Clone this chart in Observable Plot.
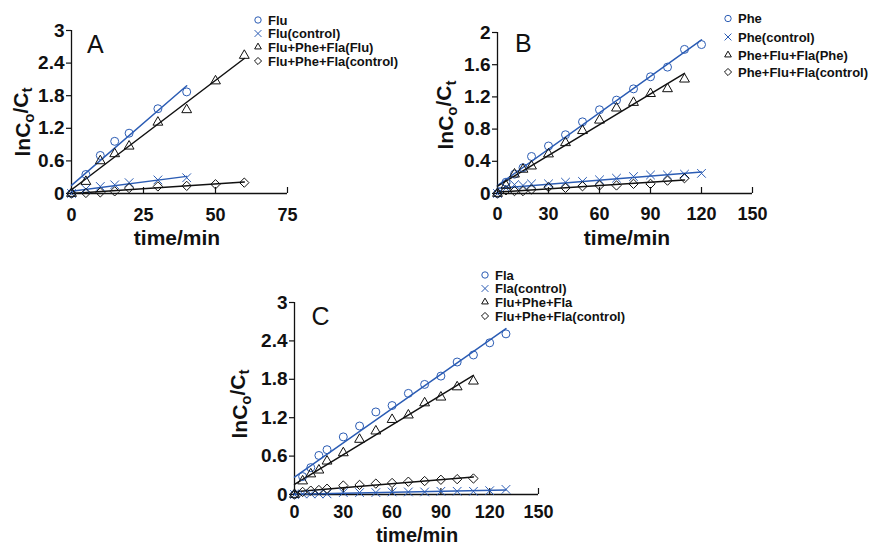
<!DOCTYPE html>
<html><head><meta charset="utf-8">
<script src="https://cdn.jsdelivr.net/npm/d3@7"></script>
<script src="https://cdn.jsdelivr.net/npm/@observablehq/plot@0.6"></script>
<style>
body{margin:0;background:#fff;}
#wrap{position:relative;width:871px;height:547px;overflow:hidden;font-family:"Liberation Sans",Arial,Helvetica,sans-serif;}
.panel{position:absolute;}
.panel svg{overflow:visible;}
#overlay{position:absolute;left:0;top:0;pointer-events:none;}
</style></head><body><div id="wrap"></div>
<script>
const FONT = '"Liberation Sans", Arial, Helvetica, sans-serif';
const BLUE = "#2b5cb4";
const BLACK = "#111";

// ---------- Panel A ----------
const timeFlu = [0, 5, 10, 15, 20, 30, 40];
const fluValues = [0, 0.35, 0.70, 0.96, 1.11, 1.56, 1.87];
const fluControlValues = [0, 0.08, 0.13, 0.16, 0.20, 0.25, 0.29];
const timeFluMix = [0, 5, 10, 15, 20, 30, 40, 50, 60];
const fluMixValues = [0, 0.22, 0.60, 0.73, 0.87, 1.31, 1.54, 2.07, 2.54];
const fluMixControlValues = [0, 0.01, 0.02, 0.04, 0.10, 0.13, 0.14, 0.17, 0.20];
const xTicksA = [0, 25, 50, 75];
const yTicksA = [0, 0.6, 1.2, 1.8, 2.4, 3];
const legendA = ["Flu", "Flu(control)", "Flu+Phe+Fla(Flu)", "Flu+Phe+Fla(control)"];

// ---------- Panel B ----------
const timePhe = [0, 5, 10, 15, 20, 30, 40, 50, 60, 70, 80, 90, 100, 110, 120];
const pheValues = [0, 0.14, 0.24, 0.32, 0.46, 0.59, 0.73, 0.89, 1.04, 1.16, 1.30, 1.45, 1.57, 1.79, 1.85];
const pheControlValues = [0, 0.07, 0.11, 0.10, 0.12, 0.12, 0.14, 0.15, 0.17, 0.19, 0.21, 0.23, 0.23, 0.24, 0.25];
const timePheMix = [0, 5, 10, 15, 20, 30, 40, 50, 60, 70, 80, 90, 100, 110];
const pheMixValues = [0, 0.10, 0.24, 0.30, 0.34, 0.49, 0.63, 0.78, 0.91, 1.06, 1.13, 1.24, 1.30, 1.42];
const pheMixControlValues = [0, 0.04, 0.03, 0.03, 0.05, 0.08, 0.07, 0.09, 0.10, 0.10, 0.12, 0.12, 0.16, 0.19];
const xTicksB = [0, 30, 60, 90, 120, 150];
const yTicksB = [0, 0.4, 0.8, 1.2, 1.6, 2];
const legendB = ["Phe", "Phe(control)", "Phe+Flu+Fla(Phe)", "Phe+Flu+Fla(control)"];

// ---------- Panel C ----------
const timeFla = [0, 5, 10, 15, 20, 30, 40, 50, 60, 70, 80, 90, 100, 110, 120, 130];
const flaValues = [0, 0.28, 0.42, 0.61, 0.70, 0.90, 1.07, 1.29, 1.39, 1.58, 1.72, 1.85, 2.07, 2.18, 2.37, 2.51];
const flaControlValues = [0, 0.01, 0.01, 0.01, 0.01, 0.03, 0.03, 0.03, 0.04, 0.04, 0.04, 0.05, 0.05, 0.05, 0.06, 0.08];
const timeFlaMix = [0, 5, 10, 15, 20, 30, 40, 50, 60, 70, 80, 90, 100, 110];
const flaMixValues = [0, 0.21, 0.32, 0.38, 0.52, 0.65, 0.86, 0.99, 1.17, 1.24, 1.43, 1.52, 1.68, 1.77];
const flaMixControlValues = [0, 0.04, 0.06, 0.07, 0.09, 0.14, 0.15, 0.17, 0.18, 0.20, 0.21, 0.23, 0.24, 0.25];
const xTicksC = [0, 30, 60, 90, 120, 150];
const yTicksC = [0, 0.6, 1.2, 1.8, 2.4, 3];
const legendC = ["Fla", "Fla(control)", "Flu+Phe+Fla", "Flu+Phe+Fla(control)"];

const panelLetters = ["A", "B", "C"];
const xAxisTitle = "time/min";

// marker styles (symbol, colour, size)
const STYLES = [
  {symbol: "circle", color: BLUE, r: 4},
  {symbol: "times", color: BLUE, r: 4},
  {symbol: "triangle2", color: BLACK, r: 4.7},
  {symbol: "diamond2", color: BLACK, r: 4.2}
];
const D3SYM = {circle: d3.symbolCircle, times: d3.symbolTimes, triangle2: d3.symbolTriangle2, diamond2: d3.symbolDiamond2};

const panels = [
  {letter: panelLetters[0], left: 0, top: 0, width: 300, height: 250,
   mL: 71, mR: 13, mT: 30, mB: 57, xDomain: [0, 75], yDomain: [0, 3], xTicks: xTicksA, yTicks: yTicksA,
   series: [[timeFlu, fluValues], [timeFlu, fluControlValues], [timeFluMix, fluMixValues], [timeFluMix, fluMixControlValues]],
   legend: legendA, legX: 258, legY: [20, 33.5, 47, 61], tickPad: 15, xLabSize: 21,
   letterPos: [87, 53], yLab: [29.5, 122], xLab: [177, 245]},
  {letter: panelLetters[1], left: 420, top: 0, width: 340, height: 250,
   mL: 77, mR: 8, mT: 32, mB: 57, xDomain: [0, 150], yDomain: [0, 2], xTicks: xTicksB, yTicks: yTicksB,
   series: [[timePhe, pheValues], [timePhe, pheControlValues], [timePheMix, pheMixValues], [timePheMix, pheMixControlValues]],
   legend: legendB, legX: 728, legY: [18.5, 37, 55, 72], tickPad: 14, xLabSize: 21,
   letterPos: [515, 52], yLab: [453, 115], xLab: [627, 245]},
  {letter: panelLetters[2], left: 200, top: 270, width: 350, height: 277,
   mL: 94, mR: 12, mT: 32, mB: 53, xDomain: [0, 150], yDomain: [0, 3], xTicks: xTicksC, yTicks: yTicksC,
   series: [[timeFla, flaValues], [timeFla, flaControlValues], [timeFlaMix, flaMixValues], [timeFlaMix, flaMixControlValues]],
   legend: legendC, legX: 485, legY: [275, 288.5, 302, 316], tickPad: 11, xLabSize: 20,
   letterPos: [311.5, 325], yLab: [246.5, 404], xLab: [417, 541.5]}
];

const wrap = document.getElementById("wrap");

for (const p of panels) {
  const frameH = p.height - p.mT - p.mB;
  const marks = [
    Plot.ruleY([0], {stroke: BLACK, strokeWidth: 1.3}),
    Plot.ruleX([0], {stroke: BLACK, strokeWidth: 1.3}),
    Plot.tickX(p.xTicks.slice(1), {x: d => d, stroke: BLACK, strokeWidth: 1.2, insetTop: frameH - 6}),
    Plot.axisY({ticks: p.yTicks, tickSize: 5, tickPadding: 2, tickFormat: d => String(d),
      fontSize: 19, fontWeight: "bold", label: null, stroke: BLACK, fill: BLACK, strokeWidth: 1.2}),
    Plot.axisX({ticks: p.xTicks, tickSize: 0, tickPadding: p.tickPad, tickFormat: d => String(d),
      fontSize: 18, fontWeight: "bold", label: null, fill: BLACK})
  ];
  p.series.forEach(([t, v], i) => {
    const rows = t.map((tt, j) => ({t: tt, v: v[j]}));
    marks.push(Plot.linearRegressionY(rows, {x: "t", y: "v", stroke: STYLES[i].color, strokeWidth: 1.5, ci: 0}));
  });
  p.series.forEach(([t, v], i) => {
    const rows = t.map((tt, j) => ({t: tt, v: v[j]}));
    marks.push(Plot.dot(rows, {x: "t", y: "v", symbol: STYLES[i].symbol, stroke: STYLES[i].color,
      fill: "none", r: STYLES[i].r, strokeWidth: 1}));
  });
  const chart = Plot.plot({
    width: p.width, height: p.height,
    marginLeft: p.mL, marginRight: p.mR, marginTop: p.mT, marginBottom: p.mB,
    x: {domain: p.xDomain}, y: {domain: p.yDomain},
    style: {fontFamily: FONT, color: "black", background: "transparent", overflow: "visible"},
    marks
  });
  const div = document.createElement("div");
  div.className = "panel";
  div.style.left = p.left + "px";
  div.style.top = p.top + "px";
  div.appendChild(chart);
  wrap.appendChild(div);
}

// overlay for annotations: panel letters, axis titles, legends
const overlay = d3.select(wrap).append("svg").attr("id", "overlay")
  .attr("width", 871).attr("height", 547)
  .style("font-family", FONT);

for (const p of panels) {
  overlay.append("text").attr("x", p.letterPos[0]).attr("y", p.letterPos[1])
    .attr("font-size", 25).attr("fill", BLACK).text(p.letter);

  overlay.append("text").attr("x", p.xLab[0]).attr("y", p.xLab[1])
    .attr("text-anchor", "middle").attr("font-size", p.xLabSize).attr("font-weight", "bold")
    .attr("fill", BLACK).text(xAxisTitle);

  const yl = overlay.append("text")
    .attr("transform", `translate(${p.yLab[0]},${p.yLab[1]}) rotate(-90)`)
    .attr("text-anchor", "middle").attr("font-size", 21).attr("font-weight", "bold").attr("fill", BLACK);
  yl.append("tspan").text("lnC");
  yl.append("tspan").attr("dy", "0.28em").attr("font-size", 15).text("o");
  yl.append("tspan").attr("dy", "-0.28em").text("/C");
  yl.append("tspan").attr("dy", "0.28em").attr("font-size", 15).text("t");

  p.legend.forEach((name, i) => {
    const st = STYLES[i];
    overlay.append("path")
      .attr("transform", `translate(${p.legX},${p.legY[i]})`)
      .attr("d", d3.symbol(D3SYM[st.symbol], Math.PI * 3.2 * 3.2)())
      .attr("fill", "none").attr("stroke", st.color).attr("stroke-width", 1);
    overlay.append("text").attr("x", p.legX + 10).attr("y", p.legY[i]).attr("dy", "0.36em")
      .attr("font-size", 13).attr("font-weight", "bold").attr("fill", BLACK).text(name);
  });
}
</script></body></html>
